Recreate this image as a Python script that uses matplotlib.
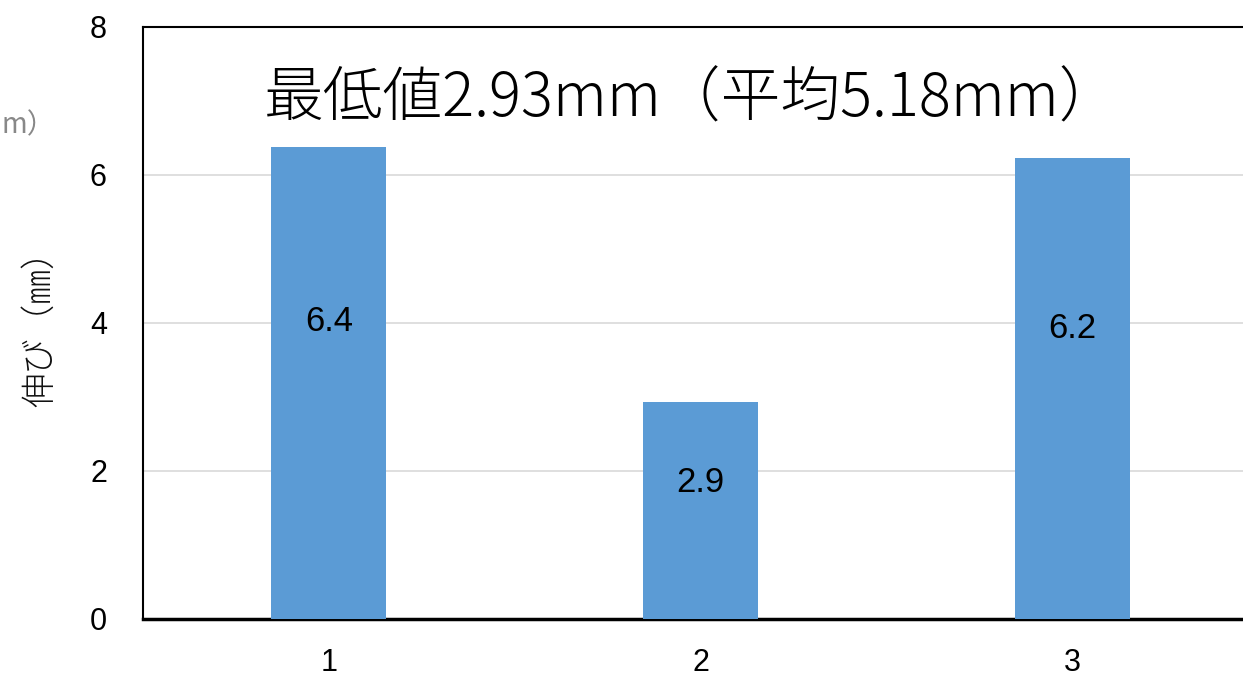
import matplotlib
matplotlib.use("Agg")
import matplotlib.pyplot as plt

plt.rcParams['font.family'] = ['Noto Sans CJK JP', 'DejaVu Sans']

categories = ["1", "2", "3"]
values = [6.38, 2.93, 6.23]
value_labels = ["6.4", "2.9", "6.2"]
yticks = [0, 2, 4, 6, 8]
title = "最低値2.93mm（平均5.18mm）"
ylabel = "伸び（㎜）"

W, H = 1243, 679
fig = plt.figure(figsize=(W/100, H/100), dpi=100)
x0, x1 = 143, 1258
y0, y1 = 619, 27
ax = fig.add_axes([x0/W, 1 - y0/H, (x1-x0)/W, (y0-y1)/H])

num_font = ['Liberation Sans', 'DejaVu Sans']
xpos = [1, 2, 3]
ax.bar(xpos, values, width=0.31, color="#5B9BD5", zorder=3)
ax.set_xlim(0.5, 3.5)
ax.set_ylim(0, 8)
ax.set_yticks(yticks)
ax.set_yticklabels([str(t) for t in yticks], fontsize=22, family=num_font)
ax.set_xticks(xpos)
ax.set_xticklabels(categories, fontsize=22, family=num_font)
ax.tick_params(axis='x', length=0, pad=21)
ax.tick_params(axis='y', length=0, pad=26)
ax.yaxis.grid(True, color="#d9d9d9", linewidth=1.2, zorder=0)
ax.set_axisbelow(True)
for s in ['left', 'top']:
    ax.spines[s].set_linewidth(1.5)
    ax.spines[s].set_color('black')
ax.spines['bottom'].set_linewidth(2.5)
ax.spines['right'].set_visible(False)

for xp, v, lab in zip(xpos, values, value_labels):
    ax.text(xp, v * 0.63, lab, ha='center', va='center', fontsize=25,
            family=num_font, zorder=4)

fig.text(692/W, 1 - 100/H, title, ha='center', va='center', fontsize=43,
         fontweight='light')
fig.text(40/W, 1 - 320/H, ylabel, ha='center', va='center', fontsize=25,
         rotation=90, color='#111111', fontweight='light')
fig.text(1/W, 1 - 125/H, "m）", ha='left', va='center', fontsize=20, color='#888888')

fig.savefig("out.png", dpi=100)
